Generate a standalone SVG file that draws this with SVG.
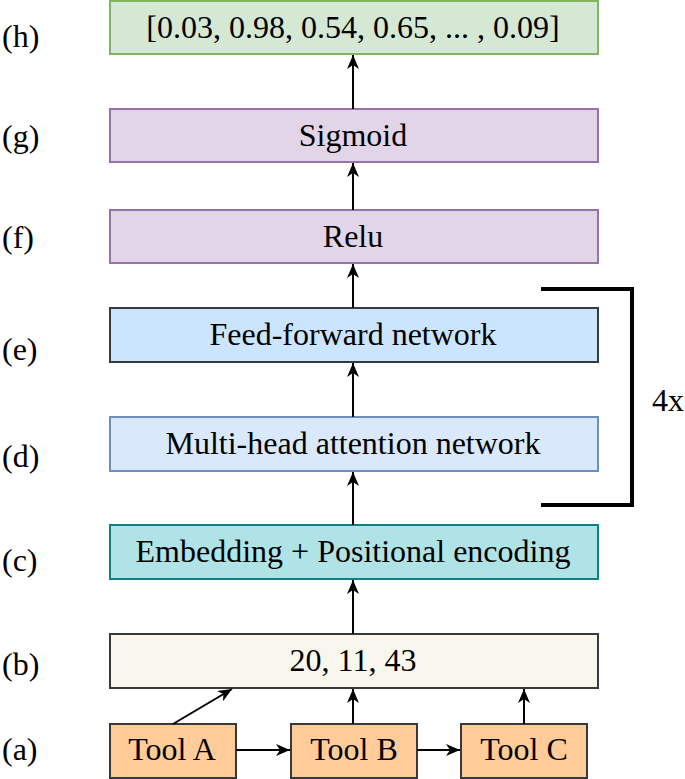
<svg xmlns="http://www.w3.org/2000/svg" width="685" height="779" viewBox="0 0 685 779" font-family="Liberation Serif, serif" font-size="32">
<style>
.box{stroke-width:2;}
.conn line{stroke:#000;stroke-width:2;fill:none;marker-end:url(#ah);}
</style>
<defs>
<marker id="ah" viewBox="0 0 14 12" refX="14" refY="6" markerWidth="14" markerHeight="12" markerUnits="userSpaceOnUse" orient="auto">
<path d="M0,0 L14,6 L0,12 L4,6 Z" fill="#000"/>
</marker>
</defs>
<rect width="685" height="779" fill="#fff"/>
<g id="labels">
<text x="2" y="47">(h)</text>
<text x="2" y="147">(g)</text>
<text x="2" y="248">(f)</text>
<text x="2" y="360">(e)</text>
<text x="2" y="467">(d)</text>
<text x="2" y="571">(c)</text>
<text x="2" y="675">(b)</text>
<text x="2" y="760">(a)</text>
</g>
<g id="output">
<rect class="box" x="110" y="1" width="488" height="53" fill="#d5e8d4" stroke="#82b366"/>
<text x="353" y="38" text-anchor="middle" font-family="Liberation Serif, serif" style="font-family:'Liberation Serif',serif">[0.03, 0.98, 0.54, 0.65, ... , 0.09]</text>
</g>
<g id="sigmoid">
<rect class="box" x="110" y="109" width="488" height="53" fill="#e1d5e7" stroke="#9673a6"/>
<text x="353" y="146" text-anchor="middle" font-family="Liberation Serif, serif" style="font-family:'Liberation Serif',serif">Sigmoid</text>
</g>
<g id="relu">
<rect class="box" x="110" y="210" width="488" height="53" fill="#e1d5e7" stroke="#9673a6"/>
<text x="353" y="247" text-anchor="middle" font-family="Liberation Serif, serif" style="font-family:'Liberation Serif',serif">Relu</text>
</g>
<g id="feedforward">
<rect class="box" x="110" y="308" width="488" height="54" fill="#cce5ff" stroke="#36393d"/>
<text x="353" y="345" text-anchor="middle" font-family="Liberation Serif, serif" style="font-family:'Liberation Serif',serif">Feed-forward network</text>
</g>
<g id="attention">
<rect class="box" x="110" y="417" width="488" height="54" fill="#dae8fc" stroke="#6c8ebf"/>
<text x="353" y="454" text-anchor="middle" font-family="Liberation Serif, serif" style="font-family:'Liberation Serif',serif">Multi-head attention network</text>
</g>
<g id="embedding">
<rect class="box" x="110" y="525" width="488" height="54" fill="#b0e3e6" stroke="#0e8088"/>
<text x="353" y="562" text-anchor="middle" font-family="Liberation Serif, serif" style="font-family:'Liberation Serif',serif">Embedding + Positional encoding</text>
</g>
<g id="ids">
<rect class="box" x="110" y="634" width="488" height="54" fill="#f9f7ed" stroke="#36393d"/>
<text x="353" y="671" text-anchor="middle" font-family="Liberation Serif, serif" style="font-family:'Liberation Serif',serif">20, 11, 43</text>
</g>
<g id="toolA">
<rect class="box" x="110" y="724" width="126" height="54" fill="#ffcc99" stroke="#36393d"/>
<text x="172" y="760" text-anchor="middle" font-family="Liberation Serif, serif" style="font-family:'Liberation Serif',serif">Tool A</text>
</g>
<g id="toolB">
<rect class="box" x="291" y="724" width="126" height="54" fill="#ffcc99" stroke="#36393d"/>
<text x="354" y="760" text-anchor="middle" font-family="Liberation Serif, serif" style="font-family:'Liberation Serif',serif">Tool B</text>
</g>
<g id="toolC">
<rect class="box" x="461" y="724" width="126" height="54" fill="#ffcc99" stroke="#36393d"/>
<text x="524" y="760" text-anchor="middle" font-family="Liberation Serif, serif" style="font-family:'Liberation Serif',serif">Tool C</text>
</g>
<g id="repeat">
<polyline points="541,289 632,289 632,505 541,505" fill="none" stroke="#000" stroke-width="4"/>
<text x="652" y="411">4x</text>
</g>
<g class="conn" id="connectors">
<line x1="353" y1="109" x2="353" y2="55"/>
<line x1="353" y1="210" x2="353" y2="163"/>
<line x1="353" y1="308" x2="353" y2="264"/>
<line x1="353" y1="417" x2="353" y2="363"/>
<line x1="353" y1="525" x2="353" y2="472"/>
<line x1="353" y1="634" x2="353" y2="580"/>
<line x1="173" y1="724" x2="232" y2="689"/>
<line x1="353" y1="724" x2="353" y2="689"/>
<line x1="524" y1="724" x2="524" y2="689"/>
<line x1="236" y1="750" x2="290" y2="750"/>
<line x1="417" y1="750" x2="460" y2="750"/>
</g>
</svg>
